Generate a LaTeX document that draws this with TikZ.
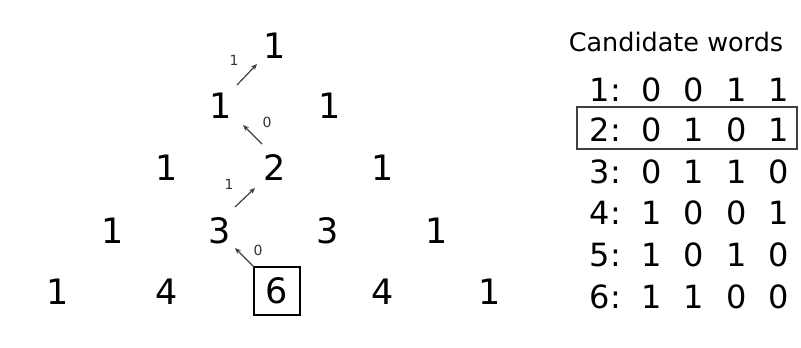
\documentclass[tikz,border=0pt]{standalone}
\usepackage{fontspec}
\setmainfont{DejaVu Sans}
\usetikzlibrary{arrows.meta}
\begin{document}
\begin{tikzpicture}[x=1pt,y=1pt,
  num/.style={inner sep=0pt,font=\fontsize{35}{40}\selectfont},
  wd/.style={inner sep=0pt,font=\fontsize{32}{36}\selectfont},
  small/.style={inner sep=0pt,font=\fontsize{14}{16}\selectfont,text=black!80},
  path/.style={draw=black!75,line width=1.2pt,-{Stealth[length=6pt,width=5pt]}}
]
\useasboundingbox (0,0) rectangle (801,-348);
% Pascal triangle
\node[num] (a0) at (275,-46) {1};
\node[num] (b0) at (221,-106) {1};
\node[num] (b1) at (330,-106) {1};
\node[num] (c0) at (167,-168) {1};
\node[num] (c1) at (275,-168) {2};
\node[num] (c2) at (383,-168) {1};
\node[num] (d0) at (113,-231) {1};
\node[num] (d1) at (220,-231) {3};
\node[num] (d2) at (328,-231) {3};
\node[num] (d3) at (437,-231) {1};
\node[num] (e0) at (58,-292) {1};
\node[num] (e1) at (167,-292) {4};
\node[num,draw,line width=2pt,minimum width=46pt,minimum height=48pt] (e2) at (277,-291) {6};
\node[num] (e3) at (383,-292) {4};
\node[num] (e4) at (490,-292) {1};
% path arrows
\coordinate (t1) at (237,-85); \coordinate (h1) at (257,-64);
\coordinate (t2) at (262,-144); \coordinate (h2) at (243,-125);
\coordinate (t3) at (235,-207); \coordinate (h3) at (255,-188);
\coordinate (t4) at (254,-267); \coordinate (h4) at (235,-248);
\draw[path] (t1) -- (h1);
\draw[path] (t2) -- (h2);
\draw[path] (t3) -- (h3);
\draw[path] (t4) -- (h4);
\node[small] (l1) at (234,-60) {1};
\node[small] (l2) at (267,-122) {0};
\node[small] (l3) at (229,-184) {1};
\node[small] (l4) at (258,-250) {0};
% candidate words
\node[inner sep=0pt,font=\fontsize{25.5}{28}\selectfont] (title) at (676,-42) {Candidate words};
\foreach \i/\a/\b/\c/\d/\y in {1/0/0/1/1/90, 2/0/1/0/1/130, 3/0/1/1/0/172, 4/1/0/0/1/213, 5/1/0/1/0/255, 6/1/1/0/0/297}{
  \node[wd,anchor=east] (w\i) at (621,-\y) {\i:};
  \node[wd] (w\i a) at (652,-\y) {\a};
  \node[wd] (w\i b) at (694,-\y) {\b};
  \node[wd] (w\i c) at (737,-\y) {\c};
  \node[wd] (w\i d) at (779,-\y) {\d};
}
\draw[black!75,line width=1.2pt] (577,-107) rectangle (797,-149);
\end{tikzpicture}
\end{document}
